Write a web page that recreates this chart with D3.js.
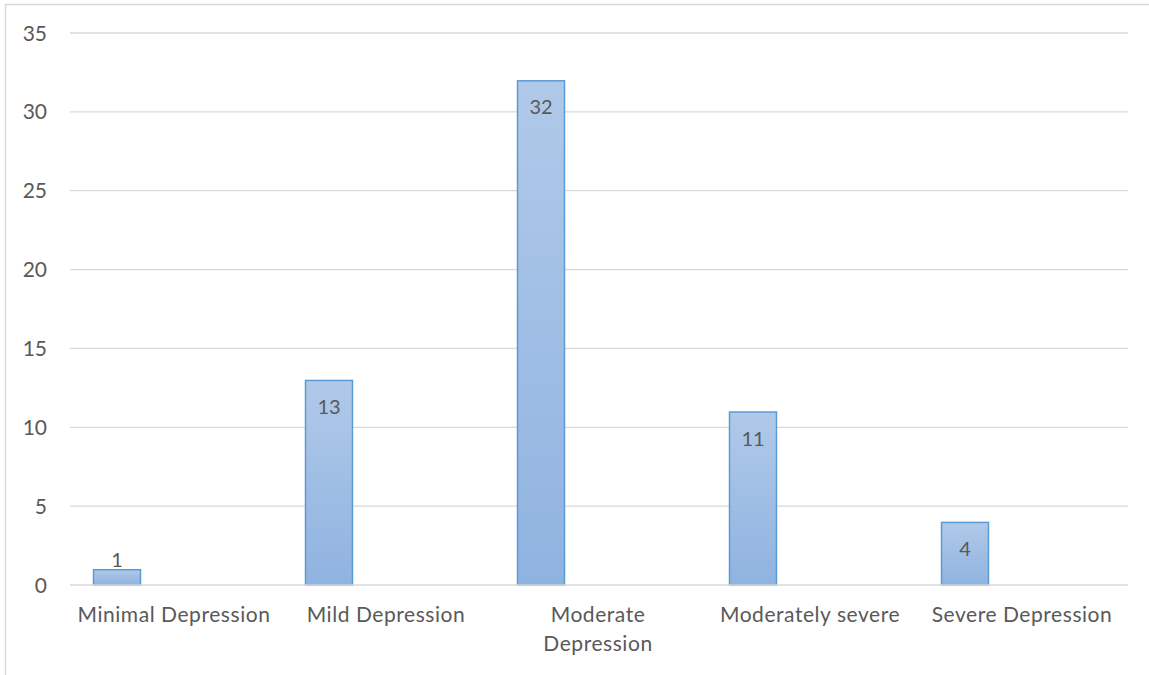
<!DOCTYPE html>
<html><head><meta charset="utf-8">
<script src="https://cdn.jsdelivr.net/npm/d3@7"></script>
<style>body{margin:0;background:#fff}svg{display:block}</style>
</head><body>
<svg id="c" width="1149" height="675"></svg>
<script>
const categories = ["Minimal Depression", "Mild Depression", "Moderate\nDepression", "Moderately severe", "Severe Depression"];
const values = [1, 13, 32, 11, 4];
const yTicks = [0, 5, 10, 15, 20, 25, 30, 35];

const svg = d3.select("#c");
const font = "Lato, 'Open Sans', sans-serif";
const m = {left: 68, right: 1128, top: 33, bottom: 585};

// outer chart border
svg.append("rect").attr("x", 5.5).attr("y", 4.5).attr("width", 1160).attr("height", 700)
  .attr("fill", "none").attr("stroke", "#d9d9d9").attr("stroke-width", 1.5);

const x = d3.scaleBand().domain(categories).range([m.left, m.right]);
const y = d3.scaleLinear().domain([0, 35]).range([m.bottom, m.top]);

const defs = svg.append("defs");
const g = defs.append("linearGradient").attr("id", "bg").attr("x1", 0).attr("y1", 0).attr("x2", 0).attr("y2", 1);
g.append("stop").attr("offset", "0%").attr("stop-color", "#b0c9e9");
g.append("stop").attr("offset", "100%").attr("stop-color", "#8fb3e0");

// gridlines
svg.append("g").selectAll("line").data(yTicks.filter(d => d > 0)).join("line")
  .attr("x1", 70).attr("x2", m.right).attr("y1", d => y(d)).attr("y2", d => y(d))
  .attr("stroke", "#d9d9d9").attr("stroke-width", 1.3);

// y labels
svg.append("g").selectAll("text").data(yTicks).join("text")
  .attr("x", 47).attr("y", d => y(d) + 7.5).attr("text-anchor", "end")
  .attr("font-family", font).attr("font-size", 21).attr("fill", "#595959").text(d => d);

// bars
const bw = 48, off = 25;
svg.append("g").selectAll("rect").data(values).join("rect")
  .attr("x", (d, i) => x(categories[i]) + off + 0.5)
  .attr("y", d => y(d) + 0.5)
  .attr("width", bw - 1)
  .attr("height", d => y(0) - y(d) - 0.5)
  .attr("fill", "url(#bg)").attr("stroke", "#5b9bd5").attr("stroke-width", 1.5);

// baseline
svg.append("line").attr("x1", 70).attr("x2", m.right).attr("y1", y(0)).attr("y2", y(0))
  .attr("stroke", "#d9d9d9").attr("stroke-width", 1.3);

// value labels
svg.append("g").selectAll("text").data(values).join("text")
  .attr("x", (d, i) => x(categories[i]) + off + bw / 2)
  .attr("y", d => (y(0) - y(d) < 40) ? y(d) - 2 : y(d) + 34)
  .attr("text-anchor", "middle").attr("font-family", font).attr("font-size", 20)
  .attr("fill", "#595959").text(d => d);

// category labels
categories.forEach(c => {
  const lines = c.split("\n");
  const t = svg.append("text").attr("text-anchor", "middle").attr("font-family", font)
    .attr("font-size", 21).attr("letter-spacing", 0.55).attr("fill", "#595959");
  lines.forEach((l, k) => {
    t.append("tspan").attr("x", x(c) + x.bandwidth() / 2).attr("y", 622 + k * 29).text(l);
  });
});
</script>
</body></html>
